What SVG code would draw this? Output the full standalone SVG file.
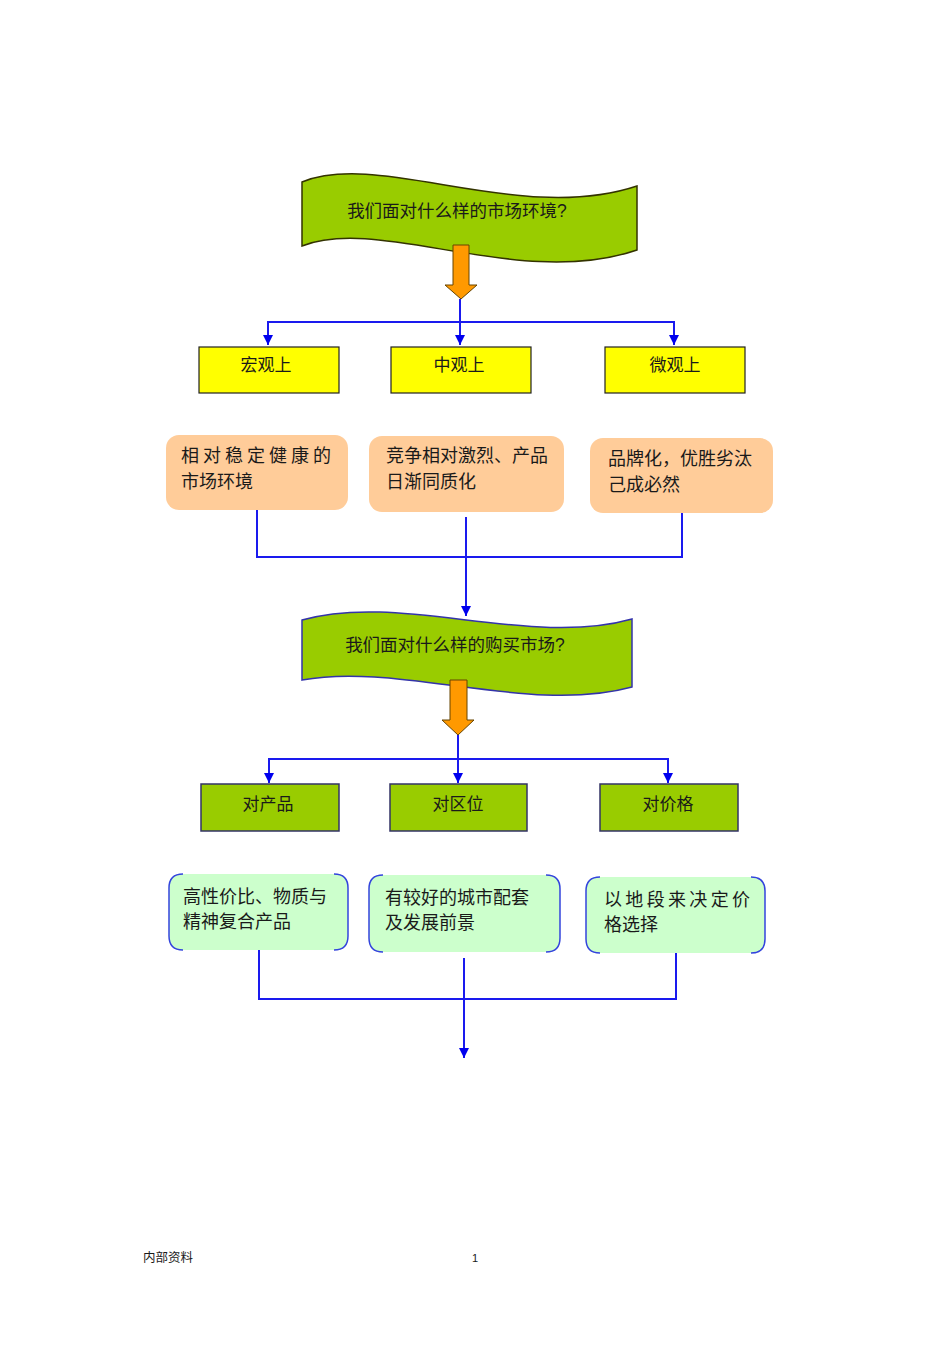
<svg xmlns="http://www.w3.org/2000/svg" width="950" height="1345" viewBox="0 0 950 1345">
<defs>
<marker id="ah" markerWidth="10" markerHeight="10" refX="10" refY="5" orient="auto" markerUnits="userSpaceOnUse" viewBox="0 0 10 10">
<path d="M0,0 L10,5 L0,10 Z" fill="#0000ee"/>
</marker>
<style>
text{font-family:"Liberation Sans","Noto Sans CJK SC",sans-serif;fill:#1a1a1a;}
.t17{font-size:17.5px;}
.t18{font-size:18px;}
.t16{font-size:17px;}
.conn{fill:none;stroke:#1a1aee;stroke-width:2;}
.banner{fill:#99cc00;stroke-width:1.5;}
.yel{fill:#ffff00;stroke:#222;stroke-width:1.2;}
.grn{fill:#99cc00;stroke:#333366;stroke-width:1.5;}
.peach{fill:#ffcc99;}
.mint{fill:#ccffcc;}
.brk{fill:none;stroke:#3344dd;stroke-width:1.5;}
.orange{fill:#ff9900;stroke:#664400;stroke-width:1;}
</style>
</defs>
<rect width="950" height="1345" fill="#ffffff"/>

<g id="banner1">
<path class="banner" stroke="#333300" d="M302,182 C380,150 520,225 637,186 L637,250 C520,290 380,215 302,246 Z"/>
<text class="t17" x="457" y="217" text-anchor="middle">我们面对什么样的市场环境?</text>
</g>
<g id="arrow1">
<path class="orange" d="M453,245 L469,245 L469,285 L477,285 L461,299 L445,285 L453,285 Z"/>
</g>

<g id="connectors">
<path class="conn" d="M460,299 L460,345" marker-end="url(#ah)"/>
<path class="conn" d="M268,345 L268,322 L674,322 L674,345" />
<path class="conn" d="M268,330 L268,345" marker-end="url(#ah)"/>
<path class="conn" d="M674,330 L674,345" marker-end="url(#ah)"/>

<path class="conn" d="M257,510 L257,557 L682,557 L682,513"/>
<path class="conn" d="M466,517 L466,616" marker-end="url(#ah)"/>

<path class="conn" d="M458,735 L458,783" marker-end="url(#ah)"/>
<path class="conn" d="M269,783 L269,759 L668,759 L668,783"/>
<path class="conn" d="M269,770 L269,783" marker-end="url(#ah)"/>
<path class="conn" d="M668,770 L668,783" marker-end="url(#ah)"/>

<path class="conn" d="M259,950 L259,999 L676,999 L676,953"/>
<path class="conn" d="M464,958 L464,1058" marker-end="url(#ah)"/>
</g>

<g id="macro">
<rect class="yel" x="199" y="347" width="140" height="46"/>
<text class="t16" x="266" y="371" text-anchor="middle">宏观上</text>
</g>
<g id="meso">
<rect class="yel" x="391" y="347" width="140" height="46"/>
<text class="t16" x="459" y="371" text-anchor="middle">中观上</text>
</g>
<g id="micro">
<rect class="yel" x="605" y="347" width="140" height="46"/>
<text class="t16" x="675" y="371" text-anchor="middle">微观上</text>
</g>

<g id="macro-desc">
<rect class="peach" x="166" y="435" width="182" height="75" rx="13"/>
<text class="t18" x="181" y="462" textLength="150" lengthAdjust="spacing">相对稳定健康的</text>
<text class="t18" x="181" y="488">市场环境</text>
</g>
<g id="meso-desc">
<rect class="peach" x="369" y="436" width="195" height="76" rx="13"/>
<text class="t18" x="386" y="462">竞争相对激烈、产品</text>
<text class="t18" x="386" y="488">日渐同质化</text>
</g>
<g id="micro-desc">
<rect class="peach" x="590" y="438" width="183" height="75" rx="13"/>
<text class="t18" x="608" y="465">品牌化，优胜劣汰</text>
<text class="t18" x="608" y="491">己成必然</text>
</g>

<g id="banner2">
<path class="banner" stroke="#3333aa" d="M302,620 C400,592 530,648 632,619 L632,687 C530,715 400,662 302,680 Z"/>
<text class="t17" x="455" y="651" text-anchor="middle">我们面对什么样的购买市场?</text>
</g>
<g id="arrow2">
<path class="orange" d="M450,680 L467,680 L467,720 L474,720 L458,735 L442,720 L450,720 Z"/>
</g>

<g id="product">
<rect class="grn" x="201" y="784" width="138" height="47"/>
<text class="t16" x="268" y="810" text-anchor="middle">对产品</text>
</g>
<g id="location">
<rect class="grn" x="390" y="784" width="137" height="47"/>
<text class="t16" x="458" y="810" text-anchor="middle">对区位</text>
</g>
<g id="price">
<rect class="grn" x="600" y="784" width="138" height="47"/>
<text class="t16" x="668" y="810" text-anchor="middle">对价格</text>
</g>

<g id="product-desc">
<rect class="mint" x="169" y="874" width="179" height="76" rx="12"/>
<path class="brk" d="M183,874 Q169,874 169,888 L169,936 Q169,950 183,950 M334,874 Q348,874 348,888 L348,936 Q348,950 334,950"/>
<text class="t18" x="183" y="903">高性价比、物质与</text>
<text class="t18" x="183" y="928">精神复合产品</text>
</g>
<g id="location-desc">
<rect class="mint" x="369" y="875" width="191" height="77" rx="12"/>
<path class="brk" d="M383,875 Q369,875 369,889 L369,938 Q369,952 383,952 M546,875 Q560,875 560,889 L560,938 Q560,952 546,952"/>
<text class="t18" x="385" y="904">有较好的城市配套</text>
<text class="t18" x="385" y="929">及发展前景</text>
</g>
<g id="price-desc">
<rect class="mint" x="586" y="877" width="179" height="76" rx="12"/>
<path class="brk" d="M600,877 Q586,877 586,891 L586,939 Q586,953 600,953 M751,877 Q765,877 765,891 L765,939 Q765,953 751,953"/>
<text class="t18" x="604" y="906" textLength="146" lengthAdjust="spacing">以地段来决定价</text>
<text class="t18" x="604" y="931">格选择</text>
</g>

<g id="footer">
<text x="143" y="1262" style="font-size:12.5px">内部资料</text>
<text x="475" y="1262" style="font-size:11px" text-anchor="middle">1</text>
</g>
</svg>
